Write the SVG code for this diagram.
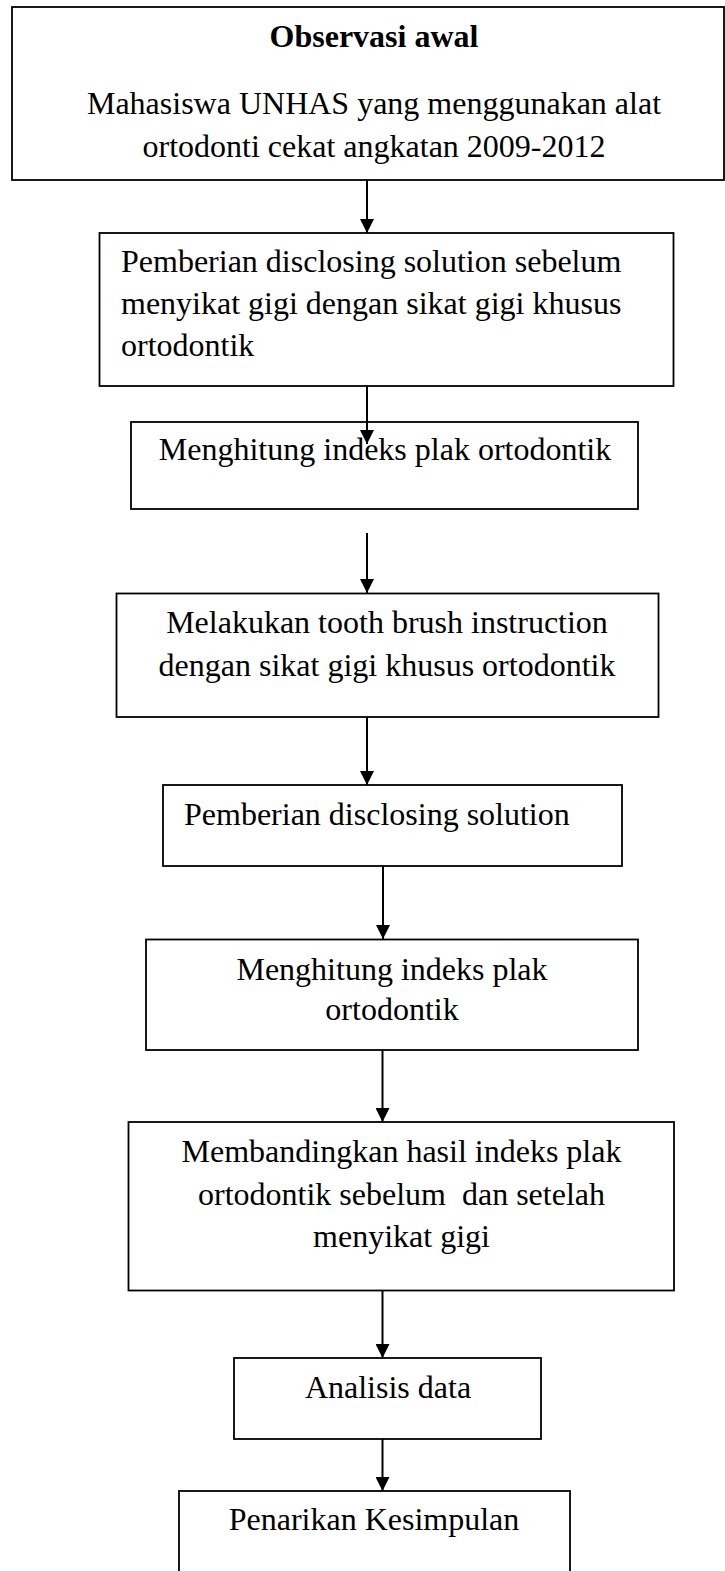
<svg xmlns="http://www.w3.org/2000/svg" width="725" height="1571" viewBox="0 0 725 1571">
<style>
  .box { fill: #ffffff; stroke: #000000; stroke-width: 1.8; }
  .t { font-family: "Liberation Serif", "Times New Roman", serif; font-size: 32px; fill: #000000; white-space: pre; }
  .c { text-anchor: middle; }
  .b { font-weight: bold; }
  .conn { stroke: #000000; stroke-width: 2; fill: none; marker-end: url(#arrow); }
</style>
<defs>
  <marker id="arrow" viewBox="0 0 14 14" refX="14" refY="7" markerWidth="14" markerHeight="14" markerUnits="userSpaceOnUse" orient="auto">
    <path d="M0,0 L14,7 L0,14 z" fill="#000000"/>
  </marker>
</defs>
<rect x="0" y="0" width="725" height="1571" fill="#ffffff"/>

<g id="n1">
  <rect class="box" x="12" y="7" width="712" height="173"/>
  <text class="t c b" x="374" y="47">Observasi awal</text>
  <text class="t c" x="374" y="114">Mahasiswa UNHAS yang menggunakan alat</text>
  <text class="t c" x="374" y="157">ortodonti cekat angkatan 2009-2012</text>
</g>

<g id="n2">
  <rect class="box" x="99.5" y="233" width="574" height="153"/>
  <text class="t" x="121" y="272">Pemberian disclosing solution sebelum</text>
  <text class="t" x="121" y="314">menyikat gigi dengan sikat gigi khusus</text>
  <text class="t" x="121" y="356">ortodontik</text>
</g>

<g id="n3">
  <rect class="box" x="131" y="422" width="507" height="87"/>
  <text class="t c" x="385" y="460">Menghitung indeks plak ortodontik</text>
</g>

<g id="n4">
  <rect class="box" x="116.5" y="593.5" width="542" height="123.5"/>
  <text class="t c" x="387" y="633">Melakukan tooth brush instruction</text>
  <text class="t c" x="387" y="676">dengan sikat gigi khusus ortodontik</text>
</g>

<g id="n5">
  <rect class="box" x="163" y="785" width="459" height="81"/>
  <text class="t" x="184" y="825">Pemberian disclosing solution</text>
</g>

<g id="n6">
  <rect class="box" x="146" y="939.5" width="492" height="110.5"/>
  <text class="t c" x="392" y="980">Menghitung indeks plak</text>
  <text class="t c" x="392" y="1020">ortodontik</text>
</g>

<g id="n7">
  <rect class="box" x="128.5" y="1122" width="545.5" height="168.5"/>
  <text class="t c" x="401.5" y="1162">Membandingkan hasil indeks plak</text>
  <text class="t c" x="401.5" y="1205">ortodontik sebelum  dan setelah</text>
  <text class="t c" x="401.5" y="1247">menyikat gigi</text>
</g>

<g id="n8">
  <rect class="box" x="234" y="1358" width="307" height="81"/>
  <text class="t c" x="388" y="1398">Analisis data</text>
</g>

<g id="n9">
  <rect class="box" x="179" y="1491" width="391" height="100"/>
  <text class="t c" x="374" y="1530">Penarikan Kesimpulan</text>
</g>

<g id="connectors">
  <line class="conn" x1="367" y1="180" x2="367" y2="233"/>
  <line class="conn" x1="367" y1="386" x2="367" y2="444"/>
  <line class="conn" x1="367" y1="533" x2="367" y2="593"/>
  <line class="conn" x1="367" y1="717" x2="367" y2="785"/>
  <line class="conn" x1="383" y1="866" x2="383" y2="939"/>
  <line class="conn" x1="382.5" y1="1050" x2="382.5" y2="1122"/>
  <line class="conn" x1="382.5" y1="1290.5" x2="382.5" y2="1358"/>
  <line class="conn" x1="382.5" y1="1439" x2="382.5" y2="1491"/>
</g>
</svg>
